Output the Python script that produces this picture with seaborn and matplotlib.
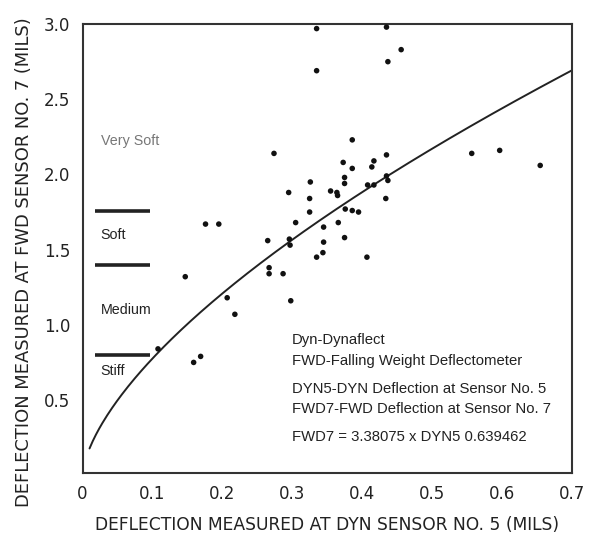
import numpy as np
import pandas as pd
import matplotlib
matplotlib.use("Agg")
import matplotlib.pyplot as plt
import seaborn as sns

# Dynaflect sensor 5 deflection vs FWD sensor 7 deflection (mils)
dyn5 = [0.335, 0.435, 0.456, 0.437, 0.335, 0.386, 0.274, 0.435, 0.557, 0.597,
        0.655, 0.373, 0.417, 0.414, 0.386, 0.375, 0.375, 0.326, 0.435, 0.437,
        0.408, 0.417, 0.295, 0.355, 0.364, 0.365, 0.325, 0.434, 0.325, 0.376,
        0.386, 0.395, 0.176, 0.195, 0.305, 0.366, 0.345, 0.265, 0.375, 0.296,
        0.297, 0.345, 0.335, 0.344, 0.407, 0.147, 0.267, 0.267, 0.287, 0.207,
        0.218, 0.298, 0.108, 0.159, 0.169]
fwd7 = [2.97, 2.98, 2.83, 2.75, 2.69, 2.23, 2.14, 2.13, 2.14, 2.16,
        2.06, 2.08, 2.09, 2.05, 2.04, 1.98, 1.94, 1.95, 1.99, 1.96,
        1.93, 1.93, 1.88, 1.89, 1.88, 1.86, 1.84, 1.84, 1.75, 1.77,
        1.76, 1.75, 1.67, 1.67, 1.68, 1.68, 1.65, 1.56, 1.58, 1.57,
        1.53, 1.55, 1.45, 1.48, 1.45, 1.32, 1.38, 1.34, 1.34, 1.18,
        1.07, 1.16, 0.84, 0.75, 0.79]

# Regression: FWD7 = a * DYN5 ^ b
fit_a = 3.38075
fit_b = 0.639462

# Stiffness class boundaries (FWD7, mils) and their labels
class_bounds = [1.76, 1.40, 0.80]
class_labels = ["Very Soft", "Soft", "Medium", "Stiff"]
class_label_y = [2.22, 1.595, 1.10, 0.69]

x_ticks = [0, 0.1, 0.2, 0.3, 0.4, 0.5, 0.6, 0.7]
x_tick_labels = ["0", "0.1", "0.2", "0.3", "0.4", "0.5", "0.6", "0.7"]
y_ticks = [0.5, 1.0, 1.5, 2.0, 2.5, 3.0]
y_tick_labels = ["0.5", "1.0", "1.5", "2.0", "2.5", "3.0"]

notes = ["Dyn-Dynaflect",
         "FWD-Falling Weight Deflectometer",
         "DYN5-DYN Deflection at Sensor No. 5",
         "FWD7-FWD Deflection at Sensor No. 7",
         "FWD7 = 3.38075 x DYN5 0.639462"]
notes_y = [0.90, 0.757, 0.571, 0.44, 0.256]

sns.set_theme(style="white")
plt.rcParams["font.family"] = ["Liberation Sans", "DejaVu Sans"]

fig = plt.figure(figsize=(6.16, 5.35), dpi=100)
ax = fig.add_axes([0.134, 0.116, 0.794, 0.839])

points = pd.DataFrame({"dyn5": dyn5, "fwd7": fwd7})
sns.scatterplot(data=points, x="dyn5", y="fwd7", ax=ax, color="#111111",
                s=16, edgecolor="none", zorder=3)

xs = np.linspace(0.01, 0.7, 300)
curve = pd.DataFrame({"dyn5": xs, "fwd7": fit_a * xs ** fit_b})
sns.lineplot(data=curve, x="dyn5", y="fwd7", ax=ax, color="#222222",
             linewidth=1.4, zorder=2)

for yb in class_bounds:
    ax.plot([0.018, 0.097], [yb, yb], color="#222222", linewidth=2.6,
            solid_capstyle="butt", zorder=2)
for lab, ly in zip(class_labels, class_label_y):
    col = "#777777" if lab == "Very Soft" else "#222222"
    ax.text(0.026, ly, lab, fontsize=10.3, color=col, va="center", ha="left")

for t, ty in zip(notes, notes_y):
    ax.text(0.300, ty, t, fontsize=10.7, color="#222222", va="center", ha="left")

ax.set_xlim(0, 0.7)
ax.set_ylim(0.015, 3.0)
ax.set_xticks(x_ticks)
ax.set_xticklabels(x_tick_labels)
ax.set_yticks(y_ticks)
ax.set_yticklabels(y_tick_labels)
ax.tick_params(axis="both", direction="in", length=6, width=1.2,
               colors="#333333", labelsize=12, labelcolor="#222222", pad=9)
ax.tick_params(axis="x", pad=9)
for lbl in ax.get_xticklabels() + ax.get_yticklabels():
    lbl.set_fontfamily("DejaVu Sans")
for side in ["top", "right", "bottom", "left"]:
    ax.spines[side].set_visible(True)
    ax.spines[side].set_color("#333333")
    ax.spines[side].set_linewidth(1.5)

ax.set_xlabel("DEFLECTION MEASURED AT DYN SENSOR NO. 5 (MILS)", fontsize=12.3,
              family="DejaVu Sans", color="#222222", labelpad=9)
ax.set_ylabel("DEFLECTION MEASURED AT FWD SENSOR NO. 7 (MILS)", fontsize=12.9,
              family="DejaVu Sans", color="#222222")
ax.yaxis.set_label_coords(-0.102, 0.47)

fig.savefig("out.png", dpi=100, facecolor="white")
